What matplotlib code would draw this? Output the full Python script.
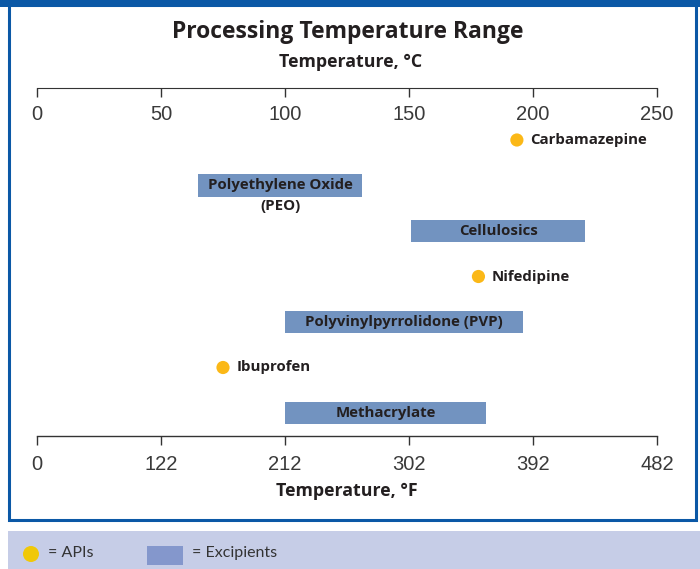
import matplotlib
matplotlib.use("Agg")
import matplotlib.pyplot as plt
from matplotlib.patches import Rectangle, Ellipse
from matplotlib.ticker import FixedLocator, FixedFormatter

# ---- data ----
celsius_ticks = [0, 50, 100, 150, 200, 250]
celsius_labels = ["0", "50", "100", "150", "200", "250"]
fahrenheit_labels = ["0", "122", "212", "302", "392", "482"]

excipients = ["Polyethylene Oxide\n(PEO)", "Cellulosics",
              "Polyvinylpyrrolidone (PVP)", "Methacrylate"]
exc_start = [65, 151, 100, 100]
exc_end = [131, 221, 196, 181]
exc_row = [1, 2, 4, 6]

apis = ["Carbamazepine", "Nifedipine", "Ibuprofen"]
api_temp = [193.5, 178, 75]
api_row = [0, 3, 5]

# ---- style ----
W, H = 700, 569
BAR_C = "#7293c0"
DOT_C = "#fbb817"
FRAME_C = "#0b58a6"
TXT_C = "#231f20"
BOLD = ["Open Sans", "DejaVu Sans"]
NARROW = ["Liberation Sans Narrow", "Liberation Sans", "DejaVu Sans"]
LBL_FS = 10.8

fig = plt.figure(figsize=(W / 100, H / 100), dpi=100)
fig.patch.set_facecolor("white")

def fx(px):
    return px / W

def fy(py):
    return 1 - py / H

# frame
fig.patches.append(Rectangle((fx(0), fy(7)), 1, 7 / H, transform=fig.transFigure,
                             facecolor=FRAME_C, edgecolor="none", zorder=0))
fig.patches.append(Rectangle((fx(9), fy(519.5)), fx(695.5 - 9), (519.5 - 5) / H,
                             transform=fig.transFigure, facecolor="none",
                             edgecolor=FRAME_C, linewidth=2.2, zorder=0))
# legend band
fig.patches.append(Rectangle((fx(8), 0), 1, (569 - 530.5) / H, transform=fig.transFigure,
                             facecolor="#c6cde7", edgecolor="none", zorder=0))

left, right = 37, 657
top_y, bot_y = 88, 436

ax = fig.add_axes([fx(left), fy(bot_y), fx(right - left), (bot_y - top_y) / H])
ax.set_xlim(0, 250)
row_px = 45.5
ax.set_ylim(6 + (bot_y - 413) / row_px, -(140 - top_y) / row_px)
for s in ["top", "left", "right"]:
    ax.spines[s].set_visible(False)
ax.spines["bottom"].set_color("#333333")
ax.spines["bottom"].set_linewidth(1.0)
ax.set_yticks([])
ax.xaxis.set_major_locator(FixedLocator(celsius_ticks))
ax.xaxis.set_major_formatter(FixedFormatter(fahrenheit_labels))
ax.tick_params(axis="x", direction="out", length=6.5, width=1.0, color="#333333",
               pad=7, labelsize=14.5, labelcolor="#3a3a3a")
for lb in ax.get_xticklabels():
    lb.set_family(NARROW)
ax.set_xlabel("Temperature, °F", fontsize=12.8, fontweight="bold", family=BOLD,
              color=TXT_C, labelpad=6)
ax.patch.set_alpha(0)

# top celsius axis
axt = fig.add_axes([fx(left), fy(top_y), fx(right - left), 0.0001])
axt.set_xlim(0, 250)
for s in ["top", "left", "right"]:
    axt.spines[s].set_visible(False)
axt.spines["bottom"].set_color("#333333")
axt.set_yticks([])
axt.patch.set_alpha(0)
axt.xaxis.set_major_locator(FixedLocator(celsius_ticks))
axt.xaxis.set_major_formatter(FixedFormatter(celsius_labels))
axt.tick_params(axis="x", direction="out", length=6.5, width=1.0, color="#333333",
                pad=5.5, labelsize=14.5, labelcolor="#3a3a3a", labelbottom=True)
for lb in axt.get_xticklabels():
    lb.set_family(NARROW)

# bars
bar_h = 0.5
ax.barh(exc_row, [e - s for s, e in zip(exc_start, exc_end)], left=exc_start,
        height=bar_h, color=BAR_C, edgecolor="none", zorder=2)
for name, s, e, r in zip(excipients, exc_start, exc_end, exc_row):
    lines = name.split("\n")
    ax.text((s + e) / 2, r, lines[0], ha="center", va="center", fontsize=LBL_FS,
            fontweight="bold", family=BOLD, color=TXT_C, zorder=3)
    for i, extra in enumerate(lines[1:]):
        ax.text((s + e) / 2, r + 0.46 * (i + 1), extra, ha="center", va="center",
                fontsize=LBL_FS, fontweight="bold", family=BOLD, color=TXT_C, zorder=3)

# API points
ax.scatter(api_temp, api_row, s=90, color=DOT_C, edgecolor="none", zorder=3)
for name, t, r in zip(apis, api_temp, api_row):
    ax.annotate(name, (t, r), xytext=(9.5, 0), textcoords="offset points",
                ha="left", va="center", fontsize=LBL_FS, fontweight="bold",
                family=BOLD, color=TXT_C)

# titles
fig.text(fx(348), fy(32), "Processing Temperature Range", ha="center", va="center",
         fontsize=16.5, fontweight="bold", family=BOLD, color=TXT_C)
fig.text(fx(351), fy(62), "Temperature, °C", ha="center", va="center",
         fontsize=12.8, fontweight="bold", family=BOLD, color=TXT_C)

# legend strip
fig.patches.append(Ellipse((fx(31), fy(554)), 16 / W, 16 / H, transform=fig.transFigure,
                           facecolor="#f0c808", edgecolor="none"))
fig.patches.append(Rectangle((fx(147), fy(565)), fx(36), 19 / H, transform=fig.transFigure,
                             facecolor="#8497cc", edgecolor="none"))
fig.text(fx(48), fy(553), "= APIs", ha="left", va="center", fontsize=11.5,
         family=["Lato", "DejaVu Sans"], color="#333333")
fig.text(fx(192), fy(553), "= Excipients", ha="left", va="center", fontsize=11.5,
         family=["Lato", "DejaVu Sans"], color="#333333")

fig.savefig("out.png", dpi=100)
